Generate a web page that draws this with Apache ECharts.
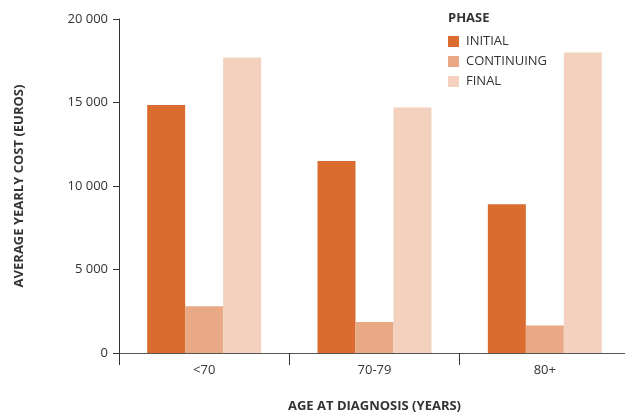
<!DOCTYPE html>
<html><head><meta charset="utf-8">
<script src="https://cdn.jsdelivr.net/npm/echarts@6/dist/echarts.min.js"></script>
<style>html,body{margin:0;padding:0;background:#fff}#c{width:625px;height:412px}</style>
</head><body><div id="c"></div>
<script>
const categories = ['<70', '70-79', '80+'];
const initial = [14850, 11500, 8900];
const continuing = [2800, 1850, 1650];
const finalPhase = [17700, 14700, 18000];
const yTicks = [0, 5000, 10000, 15000, 20000];

const font = '"Open Sans", "Noto Sans", sans-serif';
const txt = '#333333';
const chart = echarts.init(document.getElementById('c'), null, {renderer: 'canvas'});
function fmt(v){ return v === 0 ? '0' : String(v).replace(/\B(?=(\d{3})+(?!\d))/g, ' '); }
chart.setOption({
  animation: false,
  title: {
    text: 'PHASE', left: 448, top: 12, padding: 0,
    textStyle: {fontFamily: font, fontSize: 13, fontWeight: 'bold', color: txt}
  },
  legend: {
    orient: 'vertical', left: 448, top: 35, padding: 0,
    itemWidth: 11, itemHeight: 11, itemGap: 7,
    icon: 'rect',
    textStyle: {fontFamily: font, fontSize: 13, color: txt, padding: [0,0,0,2]},
    data: ['INITIAL', 'CONTINUING', 'FINAL']
  },
  grid: {left: 119, width: 511, top: 19, height: 334, containLabel: false, outerBoundsMode: 'none'},
  xAxis: {
    type: 'category', data: categories,
    name: 'AGE AT DIAGNOSIS (YEARS)', nameLocation: 'middle', nameGap: 47,
    nameTextStyle: {fontFamily: font, fontSize: 13, fontWeight: 'bold', color: txt},
    axisLine: {lineStyle: {color: '#555', width: 1}},
    axisTick: {show: true, length: 12, lineStyle: {color: '#333'}},
    axisLabel: {fontFamily: font, fontSize: 13, color: txt, margin: 11}
  },
  yAxis: {
    type: 'value', min: 0, max: 20000, interval: 5000,
    name: 'AVERAGE YEARLY COST (EUROS)', nameLocation: 'middle', nameGap: 93,
    nameTextStyle: {fontFamily: font, fontSize: 13, fontWeight: 'bold', color: txt},
    axisLine: {show: true, lineStyle: {color: '#333', width: 1}},
    axisTick: {show: true, length: 6, lineStyle: {color: '#333'}},
    axisLabel: {fontFamily: font, fontSize: 13, color: txt, margin: 11,
      formatter: v => yTicks.includes(v) ? fmt(v) : ''},
    splitLine: {show: false}
  },
  series: [
    {name: 'INITIAL', type: 'bar', data: initial, barWidth: 38, barGap: '0%', itemStyle: {color: '#D96C2E'}},
    {name: 'CONTINUING', type: 'bar', data: continuing, barWidth: 38, barGap: '0%', itemStyle: {color: '#E8A984'}},
    {name: 'FINAL', type: 'bar', data: finalPhase, barWidth: 38, barGap: '0%', itemStyle: {color: '#F3D1BE'}}
  ]
});
</script></body></html>
